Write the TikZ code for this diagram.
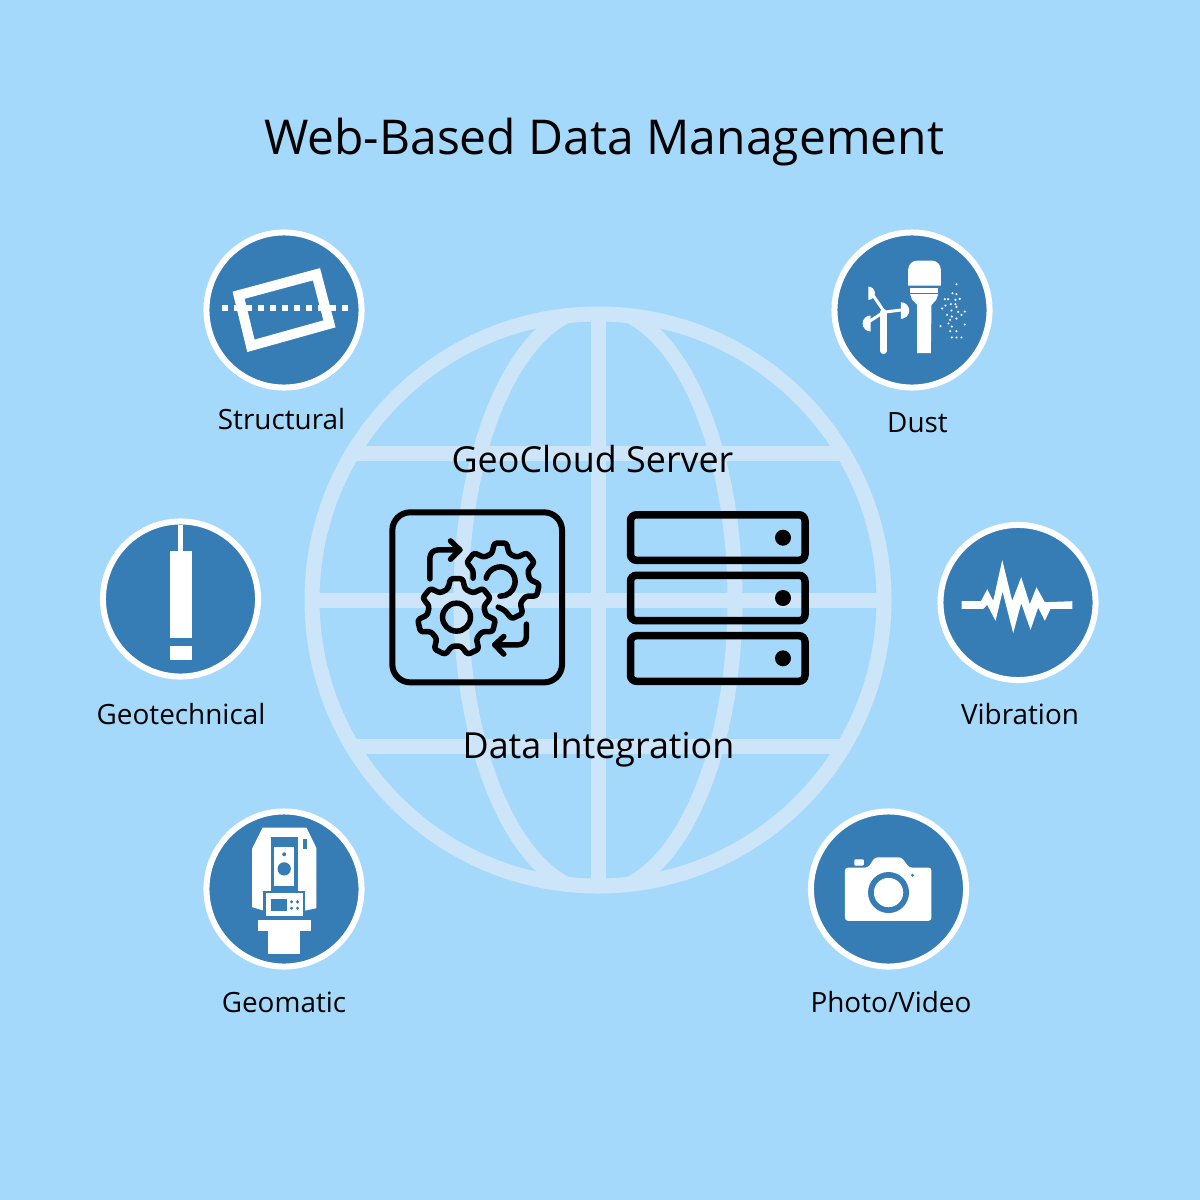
\documentclass[tikz,border=0pt]{standalone}
\usepackage{fontspec}
\setmainfont{Open Sans}
\definecolor{skyback}{HTML}{A5D9FB}
\definecolor{globepale}{HTML}{CDE5F9}
\definecolor{badgeblue}{HTML}{367CB5}
\tikzset{
  badge/.style={circle, draw=white, fill=badgeblue, line width=0.06cm, minimum size=1.55cm, inner sep=0pt, outer sep=0pt},
  caption/.style={anchor=base, inner sep=0pt, font=\fontsize{7.93pt}{10pt}\selectfont},
  midcaption/.style={anchor=base, inner sep=0pt, font=\fontsize{10.2pt}{12pt}\selectfont},
  globeline/.style={draw=globepale, line width=0.15cm},
  iconline/.style={draw=black, line width=0.055cm, line cap=round, line join=round},
  zoomed/.style={shift={(#1)}, x=0.00333cm, y=-0.00333cm}
}
\begin{document}
\begin{tikzpicture}[x=0.01cm,y=-0.01cm]
  \fill[skyback] (0,0) rectangle (1200,1200);
  % globe
  \begin{scope}
    \clip (598,600) circle (286);
    \draw[globeline] (598,600) ellipse (137 and 292);
  \end{scope}
  \draw[globeline] (598,600) circle (286);
  \draw[globeline] (598,314) -- (598,886);
  \draw[globeline] (312,600) -- (884,600);
  \draw[globeline] (352.4,453.5) -- (843.6,453.5);
  \draw[globeline] (352.4,746.5) -- (843.6,746.5);
  % texts
  \node[anchor=base, inner sep=0pt, font=\fontsize{13.65pt}{16pt}\selectfont] (title) at (604,154) {Web-Based Data Management};
  \node[midcaption] (server) at (592.5,472) {GeoCloud Server};
  \node[midcaption] (integration) at (598.5,758) {Data Integration};
  % badges
  \node[badge] (structural) at (284,310) {};
  \node[badge] (dust) at (912,310) {};
  \node[badge] (geotechnical) at (180.5,599) {};
  \node[badge] (vibration) at (1018,602.5) {};
  \node[badge] (geomatic) at (284,889) {};
  \node[badge] (photo) at (888.5,889) {};
  \node[caption] (structurallabel) at (281.5,429) {Structural};
  \node[caption] (dustlabel) at (917.5,432) {Dust};
  \node[caption] (geotechnicallabel) at (181,724) {Geotechnical};
  \node[caption] (vibrationlabel) at (1020,724) {Vibration};
  \node[caption] (geomaticlabel) at (284,1012) {Geomatic};
  \node[caption] (photolabel) at (891,1012) {Photo/Video};
  % structural icon
  \begin{scope}[zoomed={195,225}]
    \draw[white, line width=0.1cm, line join=miter] (131,211) -- (365,148) -- (404,297) -- (168,363) -- cycle;
    \draw[white, line width=0.06cm, dash pattern=on 0.06cm off 0.06cm] (82,250) -- (460,250);
  \end{scope}
  % dust icon
  \begin{scope}[zoomed={825,225}]
    \fill[white] (250,182) [rounded corners=0.09cm] -- (250,107) -- (348,107) [sharp corners] -- (348,182) -- cycle;
    \fill[white] (256,188) rectangle (340,205);
    \fill[white] (256,208) -- (340,208) -- (334,225) -- (320,240) -- (318,385) -- (277,385) -- (277,240) -- (262,225) -- cycle;
    \draw[white, line width=0.065cm, line cap=round] (176,262) -- (176,378);
    \draw[white, line width=0.03cm] (176,258) -- (145,212);
    \draw[white, line width=0.03cm] (176,262) -- (232,255);
    \draw[white, line width=0.03cm] (176,262) -- (130,292);
    \fill[white] (130,185) arc[start angle=-90, end angle=90, radius=20] -- cycle;
    \fill[white] (228,232) arc[start angle=-90, end angle=90, radius=25] -- cycle;
    \fill[white] (137,272) arc[start angle=-90, end angle=-270, radius=24] -- cycle;
    \foreach \x/\y in {395/178,383/205,395/208,360/223,370/223,392/225,405/222,378/238,362/242,392/238,395/246,352/251,380/257,400/261,420/260,367/270,381/275,410/270,395/281,376/285,371/296,381/305,347/304,420/299,376/319,395/319,381/338,395/338,410/338}
      \fill[white] (\x,\y) circle (3.6);
  \end{scope}
  % geotechnical icon
  \begin{scope}[zoomed={95,515}]
    \fill[white] (248,30) rectangle (265,107);
    \fill[white] (226,107) rectangle (290,370);
    \fill[white] (226,395) rectangle (290,437);
  \end{scope}
  % vibration icon
  \begin{scope}[zoomed={930,515}]
    \fill[white] (95,259) -- (153,259) -- (172,223) -- (190,258) -- (217,135) -- (247,258) -- (274,187) -- (300,268) -- (320,217) -- (345,262) -- (428,259)
      -- (428,282) -- (362,282) -- (345,318) -- (325,278) -- (302,345) -- (274,265) -- (250,355) -- (218,230) -- (197,318) -- (172,270) -- (160,282) -- (95,282) -- cycle;
  \end{scope}
  % geomatic icon
  \begin{scope}[zoomed={195,800}]
    \fill[white] (203,83) -- (335,83) -- (365,145) -- (365,325) -- (332,332) -- (205,332) -- (172,322) -- (172,145) -- cycle;
    \fill[badgeblue] (228,110) rectangle (308,272);
    \fill[badgeblue] (205,272) rectangle (332,355);
    \fill[badgeblue] (325,118) rectangle (337,147);
    \fill[white] (238,142) rectangle (298,258);
    \fill[badgeblue] (268,163) circle (6);
    \fill[badgeblue] (268,207) circle (20);
    \fill[white] (212,278) rectangle (325,350);
    \fill[badgeblue] (228,298) rectangle (275,332);
    \foreach \x/\y in {290/306,308/306,290/325,308/325}
      \fill[badgeblue] (\x,\y) circle (5);
    \fill[white] (188,360) rectangle (348,393);
    \fill[white] (220,393) rectangle (316,463);
  \end{scope}
  % photo icon
  \begin{scope}[zoomed={800,800}]
    \fill[white, rounded corners=0.03cm] (135,203) -- (205,203) -- (225,172) -- (305,172) -- (328,203) -- (395,203) -- (395,363) -- (135,363) -- cycle;
    \fill[white, rounded corners=0.01cm] (163,178) rectangle (192,197);
    \draw[badgeblue, line width=0.057cm] (266,278) circle (53);
    \fill[badgeblue] (338,226) circle (5);
  \end{scope}
  % integration box
  \begin{scope}[zoomed={380,500}]
    \draw[black, line width=0.06cm, rounded corners=0.18cm] (37,37) rectangle (547,548);
    \begin{scope}[shift={(230,352)}]
      \draw[iconline, rounded corners=0.025cm] (-107:88) \foreach \a in {-90,-38.57,12.86,64.29,115.71,167.14,218.57} { -- ({\a-17}:88) -- ({\a-9}:117) -- ({\a+9}:117) -- ({\a+17}:88) } -- cycle;
      \draw[iconline] (0,0) circle (42);
    \end{scope}
    \begin{scope}[shift={(362,245)}]
      \draw[iconline, rounded corners=0.025cm] (-173:83) \foreach \a in {-141.43,-90,-38.57,12.86,64.29} { -- ({\a-17}:88) -- ({\a-9}:117) -- ({\a+9}:117) -- ({\a+17}:88) } -- (95:77);
      \draw[iconline] (-167:44) arc[start angle=-167, end angle=92, radius=44];
    \end{scope}
    \draw[iconline, rounded corners=0.08cm] (150,237) -- (150,150) -- (240,150);
    \draw[iconline] (212,123) -- (240,150) -- (212,178);
    \draw[iconline, rounded corners=0.08cm] (440,373) -- (440,435) -- (345,435);
    \draw[iconline] (372,410) -- (345,435) -- (372,463);
  \end{scope}
  % server stack
  \foreach \y/\z in {514.8/560.3,575.3/620.7,635.7/681.3}
    \draw[black, line width=0.075cm, rounded corners=0.06cm] (630.5,\y) rectangle (805,\z);
  \foreach \y in {537.7,598,658.3}
    \fill[black] (783,\y) circle (8);
\end{tikzpicture}
\end{document}
